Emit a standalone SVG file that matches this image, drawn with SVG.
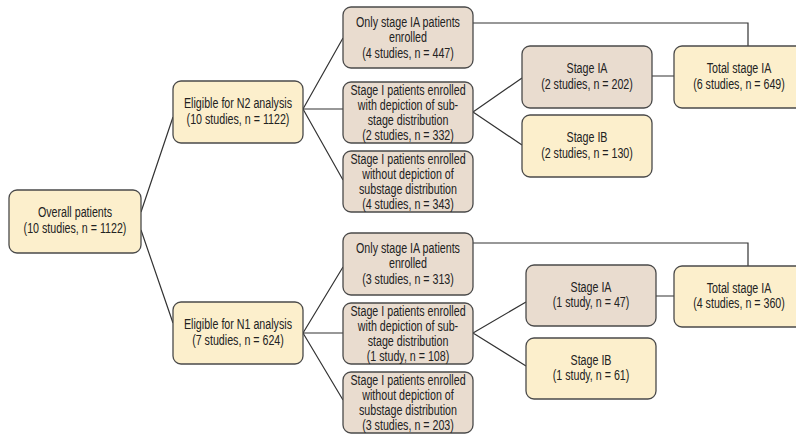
<svg xmlns="http://www.w3.org/2000/svg" width="796" height="437" viewBox="0 0 796 437">
<style>
.y{fill:#fcefcc;stroke:#4a4a4a;stroke-width:1.3}
.t{fill:#e9dccf;stroke:#4a4a4a;stroke-width:1.3}
text{font-family:"Liberation Sans",Arial,sans-serif;font-size:13.8px;fill:#222;text-anchor:middle}
.c{fill:none;stroke:#333;stroke-width:1.2}
</style>
<rect width="796" height="437" fill="#fff"/>
<g id="connectors">
<path class="c" d="M141 212L173 117M141 230L173 323"/>
<path class="c" d="M303 109L343 38M303 109L343 109M303 109L343 180"/>
<path class="c" d="M473 112L522 78M473 112L522 145"/>
<path class="c" d="M652 76L674 76M473 23H748V46"/>
<path class="c" d="M303 333L343 267M303 333L343 333M303 333L343 400"/>
<path class="c" d="M473 333L526 302M473 333L526 366"/>
<path class="c" d="M656 296L674 296M473 243H748V266"/>
</g>
<g id="overall"><rect class="y" x="9" y="190" width="132" height="63" rx="8"/><g transform="translate(75 0) scale(0.775 1)"><text x="0" y="217.5">Overall patients</text><text x="0" y="233.5">(10 studies, n = 1122)</text></g></g>
<g id="n2"><rect class="y" x="173" y="81" width="130" height="62" rx="8"/><g transform="translate(238 0) scale(0.775 1)"><text x="0" y="108.5">Eligible for N2 analysis</text><text x="0" y="124.5">(10 studies, n = 1122)</text></g></g>
<g id="n2-only"><rect class="t" x="343" y="7" width="130" height="61" rx="8"/><g transform="translate(408 0) scale(0.775 1)"><text x="0" y="27">Only stage IA patients</text><text x="0" y="42.5">enrolled</text><text x="0" y="58">(4 studies, n = 447)</text></g></g>
<g id="n2-with"><rect class="t" x="343" y="82" width="130" height="61" rx="8"/><g transform="translate(408 0) scale(0.775 1)"><text x="0" y="95">Stage I patients enrolled</text><text x="0" y="110">with depiction of sub-</text><text x="0" y="125">stage distribution</text><text x="0" y="140">(2 studies, n = 332)</text></g></g>
<g id="n2-without"><rect class="t" x="343" y="151" width="130" height="61" rx="8"/><g transform="translate(408 0) scale(0.775 1)"><text x="0" y="164">Stage I patients enrolled</text><text x="0" y="179">without depiction of</text><text x="0" y="194">substage distribution</text><text x="0" y="209">(4 studies, n = 343)</text></g></g>
<g id="n2-ia"><rect class="t" x="522" y="46" width="130" height="62" rx="8"/><g transform="translate(587 0) scale(0.775 1)"><text x="0" y="73.5">Stage IA</text><text x="0" y="89">(2 studies, n = 202)</text></g></g>
<g id="n2-ib"><rect class="y" x="522" y="115" width="130" height="62" rx="8"/><g transform="translate(587 0) scale(0.775 1)"><text x="0" y="142.5">Stage IB</text><text x="0" y="158">(2 studies, n = 130)</text></g></g>
<g id="n2-total"><rect class="y" x="674" y="46" width="130" height="62" rx="8"/><g transform="translate(739 0) scale(0.775 1)"><text x="0" y="73.5">Total stage IA</text><text x="0" y="89">(6 studies, n = 649)</text></g></g>
<g id="n1"><rect class="y" x="173" y="302" width="130" height="62" rx="8"/><g transform="translate(238 0) scale(0.775 1)"><text x="0" y="329.5">Eligible for N1 analysis</text><text x="0" y="345.5">(7 studies, n = 624)</text></g></g>
<g id="n1-only"><rect class="t" x="343" y="233" width="130" height="62" rx="8"/><g transform="translate(408 0) scale(0.775 1)"><text x="0" y="253">Only stage IA patients</text><text x="0" y="268.5">enrolled</text><text x="0" y="284">(3 studies, n = 313)</text></g></g>
<g id="n1-with"><rect class="t" x="343" y="303" width="130" height="61" rx="8"/><g transform="translate(408 0) scale(0.775 1)"><text x="0" y="316">Stage I patients enrolled</text><text x="0" y="331">with depiction of sub-</text><text x="0" y="346">stage distribution</text><text x="0" y="361">(1 study, n = 108)</text></g></g>
<g id="n1-without"><rect class="t" x="343" y="372" width="130" height="61" rx="8"/><g transform="translate(408 0) scale(0.775 1)"><text x="0" y="385">Stage I patients enrolled</text><text x="0" y="400">without depiction of</text><text x="0" y="415">substage distribution</text><text x="0" y="430">(3 studies, n = 203)</text></g></g>
<g id="n1-ia"><rect class="t" x="526" y="265" width="130" height="61" rx="8"/><g transform="translate(591 0) scale(0.775 1)"><text x="0" y="292">Stage IA</text><text x="0" y="307.5">(1 study, n = 47)</text></g></g>
<g id="n1-ib"><rect class="y" x="526" y="338" width="130" height="61" rx="8"/><g transform="translate(591 0) scale(0.775 1)"><text x="0" y="365">Stage IB</text><text x="0" y="380.5">(1 study, n = 61)</text></g></g>
<g id="n1-total"><rect class="y" x="674" y="266" width="130" height="61" rx="8"/><g transform="translate(739 0) scale(0.775 1)"><text x="0" y="293">Total stage IA</text><text x="0" y="308.5">(4 studies, n = 360)</text></g></g>
</svg>
